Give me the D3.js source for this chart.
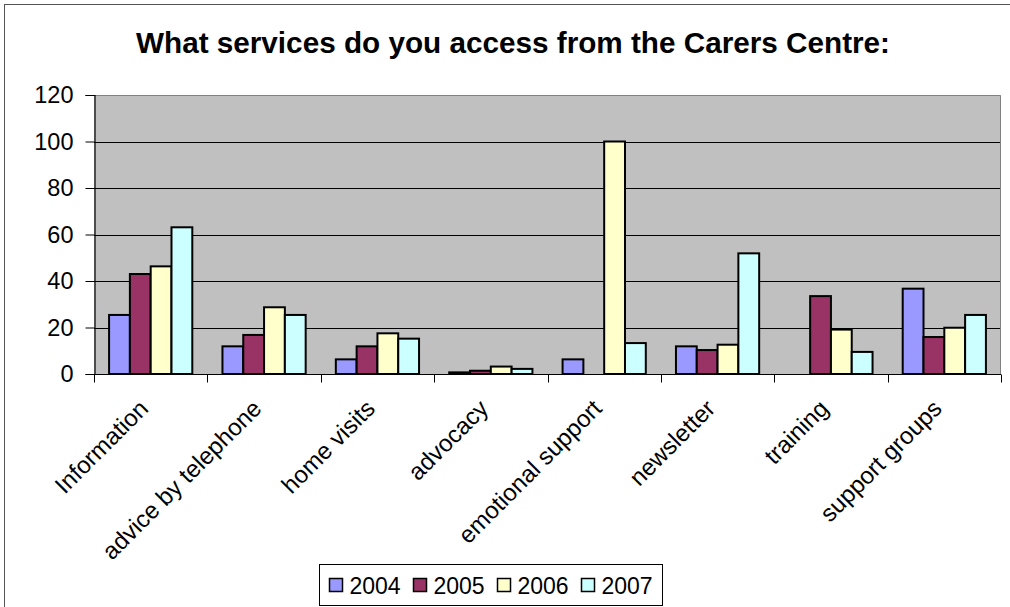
<!DOCTYPE html>
<html>
<head>
<meta charset="utf-8">
<script src="https://cdn.jsdelivr.net/npm/d3@7"></script>
<style>
  html, body { margin: 0; padding: 0; background: #ffffff; }
  svg { display: block; font-family: "Liberation Sans", Arial, sans-serif; }
</style>
</head>
<body>
<svg id="chart" width="1010" height="607"></svg>
<script>
// Services accessed at the Carers Centre, by survey year
const categories = ["Information", "advice by telephone", "home visits", "advocacy",
                    "emotional support", "newsletter", "training", "support groups"];
const years = ["2004", "2005", "2006", "2007"];
const values2004 = [25.4, 11.9, 6.3, 0.7, 6.3, 11.9, null, 36.7];
const values2005 = [43.0, 16.8, 11.9, 1.4, null, 10.3, 33.5, 15.9];
const values2006 = [46.3, 28.7, 17.5, 3.2, 100, 12.6, 19.1, 19.9];
const values2007 = [63.1, 25.4, 15.2, 2.2, 13.3, 51.9, 9.5, 25.4];
const yTicks = [0, 20, 40, 60, 80, 100, 120];
const colors = ["#9999FF", "#993366", "#FFFFCC", "#CCFFFF"];
const titleText = "What services do you access from the Carers Centre:";

const seriesValues = [values2004, values2005, values2006, values2007];
const rows = categories.map((c, i) => ({
  category: c,
  values: years.map((y, k) => ({ year: y, value: seriesValues[k][i] }))
}));

const svg = d3.select("#chart");

// outer chart frame
svg.append("rect")
  .attr("x", 4.5).attr("y", 4.5)
  .attr("width", 1030).attr("height", 640)
  .attr("fill", "#ffffff").attr("stroke", "#555555").attr("stroke-width", 1);

const plot = { left: 94, top: 95, right: 1001, bottom: 374 };

const x0 = d3.scaleBand().domain(categories).range([plot.left, plot.right]).padding(0);
const bw = x0.bandwidth();
const gap = bw * 0.133;
const x1 = d3.scaleBand().domain(years).range([gap, bw - gap]).padding(0);
const y = d3.scaleLinear().domain([0, 120]).range([plot.bottom, plot.top]);
const color = d3.scaleOrdinal().domain(years).range(colors);

// plot background
svg.append("rect")
  .attr("x", plot.left).attr("y", plot.top)
  .attr("width", plot.right - plot.left).attr("height", plot.bottom - plot.top)
  .attr("fill", "#C0C0C0");

// horizontal gridlines
svg.append("g")
  .selectAll("line")
  .data(yTicks.filter(t => t > 0 && t < 120))
  .join("line")
  .attr("x1", plot.left).attr("x2", plot.right)
  .attr("y1", d => Math.round(y(d)) + 0.5).attr("y2", d => Math.round(y(d)) + 0.5)
  .attr("stroke", "#000000").attr("stroke-width", 1);

// plot area border (top / right)
svg.append("path")
  .attr("d", `M${plot.left},${plot.top + 0.5}H${plot.right - 0.5}V${plot.bottom}`)
  .attr("fill", "none").attr("stroke", "#808080").attr("stroke-width", 1);

// bars
const groups = svg.append("g")
  .selectAll("g")
  .data(rows)
  .join("g")
  .attr("transform", d => `translate(${x0(d.category)},0)`);

groups.selectAll("rect")
  .data(d => d.values.filter(v => v.value !== null))
  .join("rect")
  .attr("x", d => x1(d.year))
  .attr("y", d => y(d.value))
  .attr("width", x1.bandwidth())
  .attr("height", d => y(0) - y(d.value))
  .attr("fill", d => color(d.year))
  .attr("stroke", "#000000")
  .attr("stroke-width", 2);

// y axis
const yAxis = svg.append("g")
  .attr("transform", `translate(${plot.left + 0.5},0)`)
  .call(d3.axisLeft(y).tickValues(yTicks).tickSize(9).tickPadding(12).tickFormat(d3.format("d")));
yAxis.select(".domain").attr("stroke", "#000000").attr("stroke-width", 1.2);
yAxis.selectAll(".tick line").attr("stroke", "#000000");
yAxis.selectAll(".tick text")
  .attr("font-size", 23.5)
  .attr("font-family", "'Liberation Sans', Arial, sans-serif")
  .attr("fill", "#000000");

// x axis with tick marks at category boundaries
const xAxisG = svg.append("g").attr("transform", `translate(0,${plot.bottom + 0.5})`);
xAxisG.append("line")
  .attr("x1", plot.left).attr("x2", plot.right)
  .attr("stroke", "#000000").attr("stroke-width", 1.2);
const boundaries = categories.map(c => x0(c)).concat([plot.right]);
xAxisG.selectAll("line.tick")
  .data(boundaries)
  .join("line")
  .attr("class", "tick")
  .attr("x1", d => Math.round(d) + 0.5).attr("x2", d => Math.round(d) + 0.5)
  .attr("y1", 0).attr("y2", 8)
  .attr("stroke", "#000000");

// rotated category labels
svg.append("g")
  .selectAll("text")
  .data(categories)
  .join("text")
  .attr("transform", d => `translate(${x0(d) + bw / 2 - 1},${plot.bottom + 36}) rotate(-45)`)
  .attr("text-anchor", "end")
  .attr("font-size", 24)
  .attr("fill", "#000000")
  .text(d => d);

// title
svg.append("text")
  .attr("x", 513).attr("y", 53)
  .attr("text-anchor", "middle")
  .attr("font-size", 29.7)
  .attr("font-weight", "bold")
  .attr("fill", "#000000")
  .text(titleText);

// legend
const legend = svg.append("g").attr("transform", "translate(319.5,564.5)");
legend.append("rect")
  .attr("width", 343).attr("height", 41)
  .attr("fill", "#ffffff").attr("stroke", "#000000").attr("stroke-width", 1);
const items = legend.selectAll("g")
  .data(years)
  .join("g")
  .attr("transform", (d, i) => `translate(${10 + i * 84},0)`);
items.append("rect")
  .attr("x", 0).attr("y", 14)
  .attr("width", 13).attr("height", 13)
  .attr("fill", d => color(d))
  .attr("stroke", "#000000").attr("stroke-width", 1.5);
items.append("text")
  .attr("x", 20).attr("y", 29)
  .attr("font-size", 23)
  .attr("fill", "#000000")
  .text(d => d);
</script>
</body>
</html>
